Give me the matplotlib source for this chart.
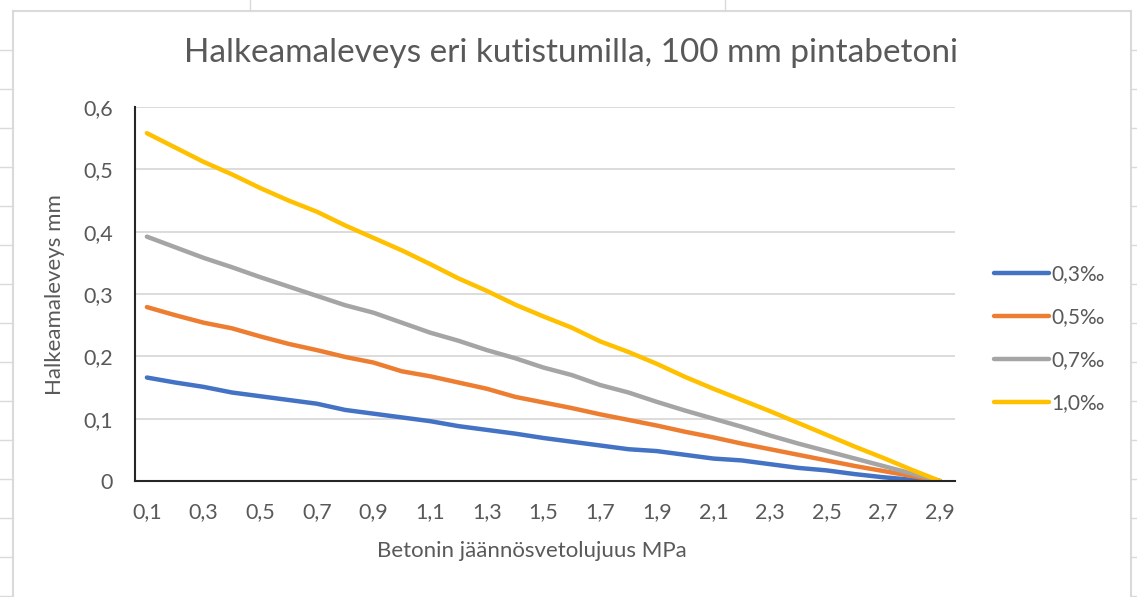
import matplotlib
matplotlib.use('Agg')
import matplotlib.pyplot as plt
from matplotlib.lines import Line2D
import numpy as np

# betonin jäännösvetolujuus MPa, 0,1 ... 2,9
lujuus = ['0,1', '0,2', '0,3', '0,4', '0,5', '0,6', '0,7', '0,8', '0,9', '1,0',
          '1,1', '1,2', '1,3', '1,4', '1,5', '1,6', '1,7', '1,8', '1,9', '2,0',
          '2,1', '2,2', '2,3', '2,4', '2,5', '2,6', '2,7', '2,8', '2,9']

# halkeamaleveys mm eri kutistumilla
k03 = [0.166, 0.158, 0.151, 0.142, 0.136, 0.130, 0.124, 0.114, 0.108, 0.102,
       0.096, 0.088, 0.082, 0.076, 0.069, 0.063, 0.057, 0.051, 0.048, 0.042,
       0.036, 0.033, 0.027, 0.021, 0.017, 0.011, 0.006, 0.002, 0.0]
k05 = [0.279, 0.266, 0.254, 0.245, 0.232, 0.220, 0.210, 0.199, 0.190, 0.176,
       0.168, 0.158, 0.148, 0.135, 0.126, 0.117, 0.107, 0.098, 0.089, 0.079,
       0.070, 0.060, 0.051, 0.042, 0.033, 0.024, 0.016, 0.008, 0.0]
k07 = [0.392, 0.375, 0.358, 0.343, 0.327, 0.312, 0.297, 0.282, 0.270, 0.254,
       0.238, 0.225, 0.210, 0.197, 0.182, 0.170, 0.154, 0.142, 0.127, 0.113,
       0.100, 0.087, 0.073, 0.060, 0.048, 0.036, 0.024, 0.012, 0.0]
k10 = [0.558, 0.535, 0.512, 0.492, 0.470, 0.450, 0.432, 0.410, 0.390, 0.370,
       0.348, 0.325, 0.305, 0.283, 0.264, 0.246, 0.224, 0.207, 0.188, 0.167,
       0.148, 0.130, 0.112, 0.093, 0.074, 0.055, 0.037, 0.018, 0.0]

sarjat = ['0,3‰', '0,5‰', '0,7‰', '1,0‰']
varit = ['#4472C4', '#ED7D31', '#A5A5A5', '#FFC000']

plt.rcParams['font.family'] = ['Lato', 'DejaVu Sans']
harmaa = '#595959'

fig = plt.figure(figsize=(11.37, 5.97), dpi=100)
W, H = 1137, 597

# taulukon ruudukko kaavion ympärillä
viiva = '#dadada'
def px(x0, y0, x1, y1, lw=1.5):
    fig.add_artist(Line2D([x0/W, x1/W], [1-y0/H, 1-y1/H], color=viiva, lw=lw,
                          transform=fig.transFigure))
px(13, 11, 1131, 11)
px(13, 11, 13, 597)
px(1131, 11, 1131, 597)
px(250, 0, 250, 11, 1)
px(725, 0, 725, 11, 1)
for y in range(50, 597, 39):
    px(0, y, 13, y, 1)
    px(1131, y, 1137, y, 1)

ax = fig.add_axes((135/W, 1-481/H, (955-135)/W, (481-107)/H))
x = np.arange(len(lujuus))
for arvot, nimi, vari in zip([k03, k05, k07, k10], sarjat, varit):
    ax.plot(x, arvot, color=vari, lw=3.2, label=nimi, solid_capstyle='round')

ax.set_xlim(-0.42, 28.53)
ax.set_ylim(0, 0.6)
ax.set_xticks(x[::2])
ax.set_xticklabels(lujuus[::2])
ax.set_yticks(np.arange(0, 0.61, 0.1))
ax.set_yticklabels(['0', '0,1', '0,2', '0,3', '0,4', '0,5', '0,6'])
ax.tick_params(length=0, labelsize=15.5, colors=harmaa)
ax.tick_params(axis='x', pad=15)
ax.tick_params(axis='y', pad=16)
ax.grid(axis='y', color='#d9d9d9', lw=1.3)
ax.set_axisbelow(True)
for s in ['top', 'right']:
    ax.spines[s].set_visible(False)
for s in ['left', 'bottom']:
    ax.spines[s].set_color('#262626')
    ax.spines[s].set_linewidth(1.5)
    ax.spines[s].set_zorder(3)

# akselien otsikot kuvan koordinaateissa
fig.text(532/W, 1-551/H, 'Betonin jäännösvetolujuus MPa', fontsize=16,
         color=harmaa, ha='center', va='center')
fig.text(55/W, 1-295/H, 'Halkeamaleveys mm', fontsize=16, color=harmaa,
         rotation=90, ha='center', va='center')

fig.text(571/W, 1-53/H, 'Halkeamaleveys eri kutistumilla, 100 mm pintabetoni',
         fontsize=24, color=harmaa, ha='center', va='center')

leg = ax.legend(loc='center left', bbox_to_anchor=(1.025, 0.38), frameon=False,
                fontsize=15, labelcolor=harmaa, handlelength=2.65, handletextpad=0.1,
                labelspacing=1.1)
for h in leg.get_lines():
    h.set_linewidth(3.2)

fig.savefig('out.png', dpi=100)
